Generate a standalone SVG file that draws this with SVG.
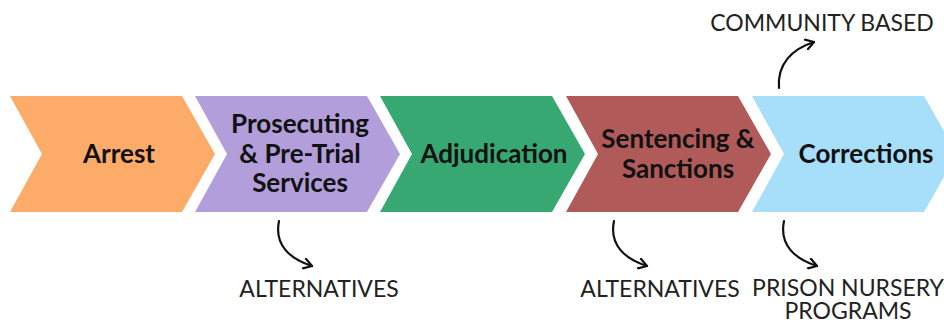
<svg xmlns="http://www.w3.org/2000/svg" width="944" height="323" viewBox="0 0 944 323">
  <style>
    .stage { font-family: Lato, "Liberation Sans", sans-serif; font-weight: 700; font-size: 26px; fill: #111; text-anchor: middle; }
    .note { font-family: Lato, "Liberation Sans", sans-serif; font-weight: 400; font-size: 23px; fill: #222; text-anchor: middle; }
    .link { fill: none; stroke: #111; stroke-width: 2.2; stroke-linecap: round; }
  </style>
  <defs>
    <!-- one chevron shape, reused for every stage -->
    <polygon id="chev" points="0,96 172,96 205,154 172,212 0,212 32,154"/>
    <marker id="head" viewBox="0 0 12 12" refX="10" refY="6" markerWidth="12" markerHeight="12" markerUnits="userSpaceOnUse" orient="auto">
      <path d="M2,1 L10,6 L2,11" fill="none" stroke="#111" stroke-width="2.2" stroke-linecap="round" stroke-linejoin="round"/>
    </marker>
  </defs>
  <rect width="944" height="323" fill="#fff"/>

  <g id="arrest">
    <use href="#chev" x="10" fill="#FCAB69"/>
    <text class="stage" x="119" y="163">Arrest</text>
  </g>
  <g id="prosecuting">
    <use href="#chev" x="195" fill="#B39EDC"/>
    <text class="stage" x="300" y="133">Prosecuting</text>
    <text class="stage" x="300" y="163">&amp; Pre-Trial</text>
    <text class="stage" x="300" y="192">Services</text>
  </g>
  <g id="adjudication">
    <use href="#chev" x="380" fill="#37A872"/>
    <text class="stage" x="494" y="163">Adjudication</text>
  </g>
  <g id="sentencing">
    <use href="#chev" x="566" fill="#B05A5A"/>
    <text class="stage" x="678" y="148">Sentencing &amp;</text>
    <text class="stage" x="678" y="178">Sanctions</text>
  </g>
  <g id="corrections">
    <use href="#chev" x="752" fill="#A7DFFB"/>
    <text class="stage" x="866" y="163">Corrections</text>
  </g>

  <g id="note-community">
    <text class="note" x="822" y="31">COMMUNITY BASED</text>
  </g>
  <g id="note-alt-1">
    <text class="note" x="319" y="297">ALTERNATIVES</text>
  </g>
  <g id="note-alt-2">
    <text class="note" x="660" y="297">ALTERNATIVES</text>
  </g>
  <g id="note-nursery">
    <text class="note" font-size="22"><tspan x="848" y="296">PRISON NURSERY</tspan><tspan x="848" y="319">PROGRAMS</tspan></text>
  </g>

  <g id="connectors">
    <path class="link" d="M279,221 C274,245 290,259 312,266" marker-end="url(#head)"/>
    <path class="link" d="M614,221 C609,245 625,259 647,266" marker-end="url(#head)"/>
    <path class="link" d="M784,221 C779,245 795,259 817,266" marker-end="url(#head)"/>
    <path class="link" d="M779,88 C777,64 792,49 814,42" marker-end="url(#head)"/>
  </g>
</svg>
